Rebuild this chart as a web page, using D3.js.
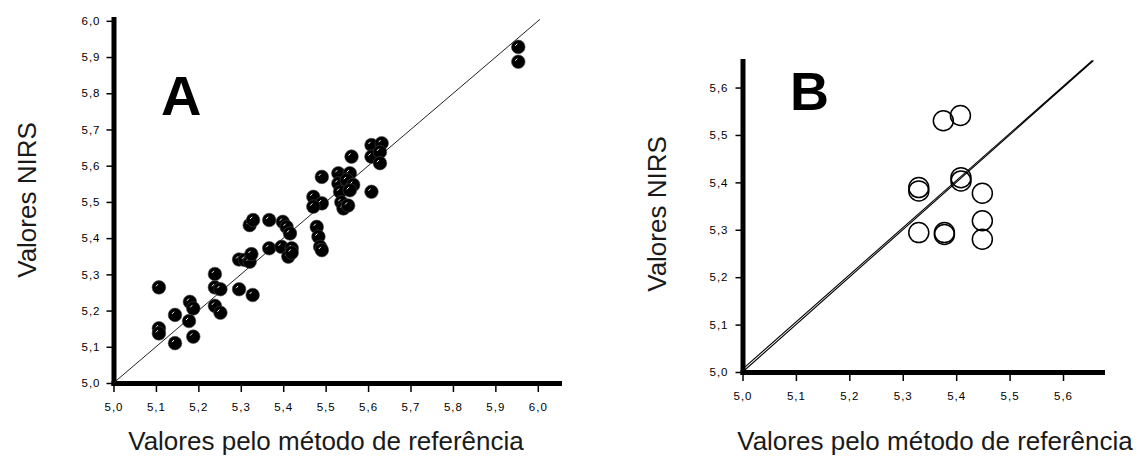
<!DOCTYPE html>
<meta charset="utf-8">
<head>
    <title>Valores NIRS x referência</title>
    <script type="text/javascript" src="https://d3js.org/d3.v7.min.js"></script>
    <style>
        body { margin: 0; background: #fff; }
        .tick text {
            font-family: 'Liberation Sans', Arial, sans-serif;
            font-size: 11.5px;
            letter-spacing: 1px;
            fill: #000;
        }
        .axis .domain { stroke: #000; stroke-width: 5; stroke-linecap: square; }
        .axis .tick line { stroke: #000; stroke-width: 1.5; }
        .axisTitle {
            font-family: 'Liberation Sans', Arial, sans-serif;
            font-size: 26px;
            fill: #1a1a1a;
        }
        .panelLabel {
            font-family: 'Liberation Sans', Arial, sans-serif;
            font-weight: bold;
            fill: #000;
        }
    </style>
</head>
<body>
<div id="chart"></div>
<script>
    // panel A: reference values vs NIRS predictions (filled dots)
    var refA = [5.107, 5.107, 5.107, 5.145, 5.145, 5.180, 5.188, 5.178, 5.188, 5.239,
                5.239, 5.252, 5.239, 5.252, 5.296, 5.310, 5.296, 5.328, 5.321, 5.325,
                5.321, 5.329, 5.367, 5.367, 5.399, 5.408, 5.416, 5.396, 5.420, 5.412,
                5.420, 5.471, 5.491, 5.471, 5.479, 5.483, 5.487, 5.491, 5.491, 5.530,
                5.557, 5.530, 5.550, 5.565, 5.534, 5.557, 5.537, 5.542, 5.553, 5.561,
                5.608, 5.608, 5.632, 5.608, 5.628, 5.628, 5.954, 5.954];
    var nirsA = [5.264, 5.151, 5.137, 5.188, 5.110, 5.224, 5.206, 5.171, 5.128, 5.301,
                 5.264, 5.259, 5.213, 5.194, 5.341, 5.340, 5.259, 5.243, 5.335, 5.356,
                 5.436, 5.450, 5.450, 5.372, 5.445, 5.431, 5.413, 5.376, 5.372, 5.349,
                 5.360, 5.514, 5.496, 5.487, 5.431, 5.404, 5.376, 5.367, 5.569, 5.579,
                 5.579, 5.551, 5.560, 5.547, 5.528, 5.532, 5.499, 5.482, 5.490, 5.625,
                 5.528, 5.657, 5.662, 5.625, 5.638, 5.607, 5.928, 5.887];

    // panel B: validation set (open circles)
    var refB = [5.376, 5.408, 5.330, 5.330, 5.409, 5.409, 5.449, 5.330, 5.378, 5.378, 5.449, 5.449];
    var nirsB = [5.530, 5.541, 5.382, 5.389, 5.403, 5.410, 5.377, 5.294, 5.294, 5.290, 5.319, 5.280];

    // 1:1 line and fitted line (start x, start y, end x, end y)
    var lineA = [[5.0, 5.0, 6.005, 6.004]];
    var linesB = [[5.0, 5.0, 5.657, 5.657], [5.0, 5.006, 5.655, 5.657]];

    var ticksA = [5.0, 5.1, 5.2, 5.3, 5.4, 5.5, 5.6, 5.7, 5.8, 5.9, 6.0];
    var ticksB = [5.0, 5.1, 5.2, 5.3, 5.4, 5.5, 5.6];

    var xTitle = "Valores pelo método de referência";
    var yTitle = "Valores NIRS";

    var w = 1143
    var h = 463

    var svg = d3.select("#chart")
        .append("svg")
        .attr("width", w)
        .attr("height", h);

    var fmt = function(d) { return d3.format(".1f")(d).replace(".", ","); };

    // scales
    var xA = d3.scaleLinear().domain([5.0, 6.05]).range([113.5, 559]);
    var yA = d3.scaleLinear().domain([5.0, 6.005]).range([383, 19]);
    var xB = d3.scaleLinear().domain([5.0, 5.673]).range([742.5, 1102]);
    var yB = d3.scaleLinear().domain([5.0, 5.656]).range([372, 61]);

    // axes of panel A
    svg.append("g")
        .attr("class", "axis")
        .attr("transform", "translate(0," + yA(5.0) + ")")
        .call(d3.axisBottom(xA).tickValues(ticksA).tickFormat(fmt)
            .tickSize(9).tickPadding(11).tickSizeOuter(0));

    svg.append("g")
        .attr("class", "axis")
        .attr("transform", "translate(" + xA(5.0) + ",0)")
        .call(d3.axisLeft(yA).tickValues(ticksA).tickFormat(fmt)
            .tickSize(7).tickPadding(6).tickSizeOuter(0));

    // axes of panel B
    svg.append("g")
        .attr("class", "axis")
        .attr("transform", "translate(0," + yB(5.0) + ")")
        .call(d3.axisBottom(xB).tickValues(ticksB).tickFormat(fmt)
            .tickSize(9).tickPadding(11).tickSizeOuter(0));

    svg.append("g")
        .attr("class", "axis")
        .attr("transform", "translate(" + xB(5.0) + ",0)")
        .call(d3.axisLeft(yB).tickValues(ticksB).tickFormat(fmt)
            .tickSize(7).tickPadding(7).tickSizeOuter(0));

    // reference lines
    svg.selectAll(".lineA")
        .data(lineA)
        .enter()
        .append("line")
        .attr("x1", function(d) { return xA(d[0]); })
        .attr("y1", function(d) { return yA(d[1]); })
        .attr("x2", function(d) { return xA(d[2]); })
        .attr("y2", function(d) { return yA(d[3]); })
        .attr("stroke", "#222")
        .attr("stroke-width", 1);

    svg.selectAll(".lineB")
        .data(linesB)
        .enter()
        .append("line")
        .attr("x1", function(d) { return xB(d[0]); })
        .attr("y1", function(d) { return yB(d[1]); })
        .attr("x2", function(d) { return xB(d[2]); })
        .attr("y2", function(d) { return yB(d[3]); })
        .attr("stroke", "#000")
        .attr("stroke-width", 1.1);

    // filled dots with a small white shine
    var dotsA = svg.selectAll(".dotA")
        .data(refA.map(function(r, i) { return {x: r, y: nirsA[i]}; }))
        .enter()
        .append("g")
        .attr("class", "dotA")
        .attr("transform", function(d) { return "translate(" + xA(d.x) + "," + yA(d.y) + ")"; });

    dotsA.append("circle")
        .attr("r", 6.8)
        .attr("fill", "#000")
        .attr("stroke", "#444")
        .attr("stroke-width", 0.6);

    dotsA.append("line")
        .attr("x1", -3).attr("y1", -1)
        .attr("x2", -1).attr("y2", -3.2)
        .attr("stroke", "#fff")
        .attr("stroke-width", 1);

    // open circles
    svg.selectAll(".dotB")
        .data(refB.map(function(r, i) { return {x: r, y: nirsB[i]}; }))
        .enter()
        .append("circle")
        .attr("class", "dotB")
        .attr("cx", function(d) { return xB(d.x); })
        .attr("cy", function(d) { return yB(d.y); })
        .attr("r", 10)
        .attr("fill", "none")
        .attr("stroke", "#000")
        .attr("stroke-width", 1.5);

    // panel letters
    svg.append("text").attr("class", "panelLabel")
        .attr("x", 161).attr("y", 115)
        .style("font-size", "56px")
        .text("A");

    svg.append("text").attr("class", "panelLabel")
        .attr("x", 790).attr("y", 110)
        .style("font-size", "54px")
        .text("B");

    // axis titles
    svg.append("text").attr("class", "axisTitle")
        .attr("x", 326).attr("y", 450)
        .attr("text-anchor", "middle")
        .text(xTitle);

    svg.append("text").attr("class", "axisTitle")
        .attr("transform", "translate(36,200) rotate(-90)")
        .attr("text-anchor", "middle")
        .text(yTitle);

    svg.append("text").attr("class", "axisTitle")
        .attr("x", 935).attr("y", 450)
        .attr("text-anchor", "middle")
        .text(xTitle);

    svg.append("text").attr("class", "axisTitle")
        .attr("transform", "translate(666,214) rotate(-90)")
        .attr("text-anchor", "middle")
        .text(yTitle);
</script>
</body>
</html>
